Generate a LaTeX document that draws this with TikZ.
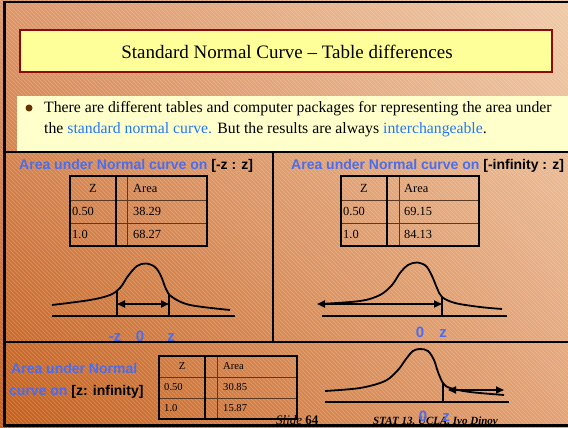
\documentclass[tikz,border=0pt]{standalone}
\usepackage{fontspec}
\setmainfont{Liberation Serif}
\setsansfont{Liberation Sans}
\usepackage{xcolor}
\usetikzlibrary{arrows.meta, shadings, positioning, calc}

\definecolor{titlefill}{HTML}{FFFF99}
\definecolor{titleframe}{HTML}{8E0A0A}
\definecolor{notefill}{HTML}{FFFFCC}
\definecolor{areablue}{HTML}{4A6DF0}
\definecolor{linkblue}{HTML}{2277F5}
\definecolor{dotbrown}{HTML}{663300}
\definecolor{gridbrown}{HTML}{5A3A22}

\begin{document}
\begin{tikzpicture}[
    x=1pt, y=-1pt,
    >={Triangle[length=8pt, width=7pt]},
    frame/.style     ={line width=2.2pt, black},
    hatch/.style     ={white, opacity=0.22, line width=0.5pt},
    tabframe/.style  ={line width=1.6pt, black},
    tabline/.style   ={line width=1pt, gridbrown},
    cell/.style      ={inner sep=0pt, font=\fontsize{12.4}{14}\selectfont},
    smallcell/.style ={inner sep=0pt, font=\fontsize{10.6}{12}\selectfont},
    curve/.style     ={line width=1.8pt, black},
    spanarrow/.style ={<->, line width=1.8pt},
    panelhead/.style ={inner sep=0pt, anchor=base west,
                       font=\sffamily\bfseries\fontsize{14}{16}\selectfont, text=areablue},
    axislabel/.style ={inner sep=0pt, anchor=base,
                       font=\sffamily\bfseries\fontsize{15}{17}\selectfont, text=areablue},
    bullettext/.style={inner sep=0pt, anchor=base west, font=\fontsize{15.75}{20}\selectfont}
]
\useasboundingbox (0,0) rectangle (568,428);

% =================== background ===================
\shade[upper left={rgb,255:red,222;green,150;blue,104},
       upper right={rgb,255:red,240;green,202;blue,166},
       lower left={rgb,255:red,198;green,94;blue,24},
       lower right={rgb,255:red,228;green,162;blue,116}]
    (0,0) rectangle (568,428);
\begin{scope}
  \clip (0,0) rectangle (568,428);
  \foreach \i in {-428,-424,...,568}
    \draw[hatch] (\i,0) -- ++(428,428);
\end{scope}

% title bar
\node[draw=titleframe, line width=2.2pt, fill=titlefill, minimum width=532pt,
      minimum height=42pt, inner sep=0pt] (titlebar) at (286,51) {};
\node[inner sep=0pt, anchor=base, font=\fontsize{19}{22}\selectfont] (title) at (287,59)
    {Standard Normal Curve -- Table differences};

% bullet strip
\fill[notefill] (17,96) rectangle (568,151);
\fill[dotbrown] (29,108) circle (3.5pt);
\node[bullettext] (bul1) at (44,113)
    {There are different tables and computer packages for representing the area under};
\node[bullettext] (bul2) at (44,133)
    {the \textcolor{linkblue}{standard normal curve.} But the results are always
     \textcolor{linkblue}{interchangeable}.};

% frame and panel rules
\draw[frame] (570,2) -- (4.5,2) -- (4.5,425.5) -- (570,425.5);
\draw[frame] (4.5,152) -- (568,152);
\draw[frame] (4.5,342) -- (568,342);
\draw[frame] (273,152) -- (273,342);

% =================== LEFT PANEL: [-z : z] ===================
\node[panelhead] (lhead) at (19,169.5)
    {Area under Normal curve on \textcolor{black}{[-z : z]}};

\begin{scope}[shift={(70,176)}]
  \draw[tabline] (0,24) -- (137,24) (0,47) -- (137,47) (57,0) -- (57,70);
  \draw[line width=1.1pt] (46,0) -- (46,70);
  \draw[tabframe] (0,0) rectangle (137,70);
  \node[cell] (lz) at (23,12) {Z};
  \node[cell, anchor=west] (la) at (63,12) {Area};
  \node[cell, anchor=west] (lz1) at (2,35.5) {0.50};
  \node[cell, anchor=west] (la1) at (63,35.5) {38.29};
  \node[cell, anchor=west] (lz2) at (2,58.5) {1.0};
  \node[cell, anchor=west] (la2) at (63,58.5) {68.27};
\end{scope}

\coordinate (laxl) at (52,316);
\coordinate (laxr) at (235,316);
\coordinate (lneg) at (117,316);
\coordinate (lpos) at (169,316);
\draw[curve] (laxl) -- (laxr);
\draw[curve] plot[smooth, tension=0.55] coordinates {(52,305) (90,300) (110,295)
    (120,288) (128,276) (137,266) (146,263.5) (155,267) (161,276) (166,289)
    (172,297) (190,305) (230,310)};
\draw[curve] (lneg) -- ++(0,-25);
\draw[curve] (lpos) -- ++(0,-22);
\draw[spanarrow] ($(lneg)+(0,-12)$) -- ($(lpos)+(0,-12)$);

% =================== RIGHT PANEL: [-infinity : z] ===================
\node[panelhead] (rhead) at (291,169.5)
    {Area under Normal curve on \textcolor{black}{[-infinity : z]}};

\begin{scope}[shift={(341,176)}]
  \draw[tabline] (0,24) -- (138,24) (0,47) -- (138,47) (58,0) -- (58,70);
  \draw[line width=1.1pt] (46,0) -- (46,70);
  \draw[tabframe] (0,0) rectangle (138,70);
  \node[cell] (rz) at (23,12) {Z};
  \node[cell, anchor=west] (ra) at (63,12) {Area};
  \node[cell, anchor=west] (rz1) at (2,35.5) {0.50};
  \node[cell, anchor=west] (ra1) at (63,35.5) {69.15};
  \node[cell, anchor=west] (rz2) at (2,58.5) {1.0};
  \node[cell, anchor=west] (ra2) at (63,58.5) {84.13};
\end{scope}

\coordinate (raxl) at (322,316);
\coordinate (raxr) at (507,316);
\coordinate (rpos) at (442,316);
\coordinate (rtail) at (317,304);
\draw[curve] (raxl) -- (raxr);
\draw[curve] plot[smooth, tension=0.55] coordinates {(320,304) (360,301) (380,295)
    (392,285) (400,273) (408,265) (417,262.5) (426,266) (432,276) (437,288)
    (442,297) (455,303) (480,307) (502,309)};
\draw[curve] (rpos) -- ++(0,-19);
\draw[spanarrow] (rtail) -- (rpos |- rtail);

% =================== BOTTOM PANEL: [z : infinity] ===================
\node[panelhead] (bhead1) at (11,373) {Area under Normal};
\node[panelhead] (bhead2) at (9,395) {curve on \textcolor{black}{[z: infinity]}};

\begin{scope}[shift={(159,356)}]
  \draw[tabline] (0,21) -- (138,21) (0,42) -- (138,42) (58,0) -- (58,63);
  \draw[line width=1.1pt] (46,0) -- (46,63);
  \draw[tabframe] (0,0) rectangle (138,63);
  \node[smallcell] (bz) at (23,10.5) {Z};
  \node[smallcell, anchor=west] (ba) at (64,10.5) {Area};
  \node[smallcell, anchor=west] (bz1) at (5,31.5) {0.50};
  \node[smallcell, anchor=west] (ba1) at (64,31.5) {30.85};
  \node[smallcell, anchor=west] (bz2) at (5,52.5) {1.0};
  \node[smallcell, anchor=west] (ba2) at (64,52.5) {15.87};
\end{scope}

\coordinate (baxl) at (325,402);
\coordinate (baxr) at (509,402);
\coordinate (bpos) at (443,402);
\coordinate (bend) at (504,390);
\draw[curve] (baxl) -- (baxr);
\draw[curve] plot[smooth, tension=0.55] coordinates {(325,391) (360,388) (385,381)
    (398,370) (406,359) (413,351) (420,349) (428,351) (434,360) (438,372)
    (443,383) (450,388) (470,392) (504,395)};
\draw[curve] (bpos) -- ++(0,-19);
\draw[spanarrow] ($(bpos |- bend)+(5,0)$) -- (bend);

% footer
\node[inner sep=0pt, anchor=base west, font=\itshape\fontsize{13}{15}\selectfont]
    (slideno) at (276,424) {Slide \textbf{\upshape 64}};
\node[inner sep=0pt, anchor=base west, font=\bfseries\itshape\fontsize{11}{13}\selectfont]
    (credit) at (373,424) {STAT 13, UCLA, Ivo Dinov};

% axis labels
\node[axislabel] (lnegz) at (115,341) {-z};
\node[axislabel] (lzero) at (140,341) {0};
\node[axislabel] (lposz) at (171,341) {z};
\node[axislabel] (rzero) at (420,337) {0};
\node[axislabel] (rposz) at (443,337) {z};
\node[axislabel] (bzero) at (423,421) {0};
\node[axislabel] (bposz) at (446,421) {z};

\end{tikzpicture}
\end{document}
